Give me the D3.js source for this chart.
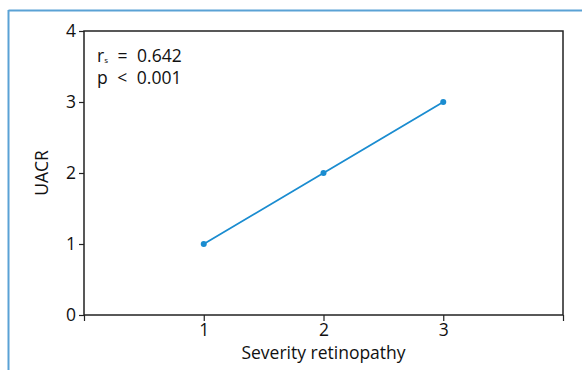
<!DOCTYPE html>
<html><head><meta charset="utf-8">
<script src="https://cdn.jsdelivr.net/npm/d3@7"></script>
<style>
body{margin:0;background:#fff;}
svg{display:block;font-family:"Open Sans","Noto Sans",sans-serif;}
</style></head><body>
<svg id="c" width="582" height="370"></svg>
<script>
const severity = [1, 2, 3];
const uacr = [1, 2, 3];
const xTicks = [0, 1, 2, 3, 4];
const xTickLabels = ["", "1", "2", "3", ""];
const yTicks = [0, 1, 2, 3, 4];
const statLines = ["= 0.642", "p < 0.001"];

const svg = d3.select("#c");
const m = {l: 84, r: 19, t: 31, b: 55};
const W = 582, H = 370;
const x = d3.scaleLinear().domain([0, 4]).range([m.l, W - m.r]);
const y = d3.scaleLinear().domain([0, 4]).range([H - m.b, m.t]);
const FS = "17.5px";

// outer frame (blue)
svg.append("line").attr("x1", 8.5).attr("x2", 582).attr("y1", 10.5).attr("y2", 10.5)
  .attr("stroke", "#5aa2d5").attr("stroke-width", 2);
svg.append("line").attr("x1", 8.5).attr("x2", 8.5).attr("y1", 10).attr("y2", 370)
  .attr("stroke", "#5aa2d5").attr("stroke-width", 2);

// plot box
svg.append("rect").attr("x", x(0)).attr("y", y(4)).attr("width", x(4) - x(0)).attr("height", y(0) - y(4))
  .attr("fill", "none").attr("stroke", "#222").attr("stroke-width", 1.5);

const xAxis = svg.append("g").attr("transform", `translate(0,${y(0)})`)
  .call(d3.axisBottom(x).tickValues(xTicks).tickFormat((d, i) => xTickLabels[i]).tickSize(6).tickPadding(3));
const yAxis = svg.append("g").attr("transform", `translate(${x(0)},0)`)
  .call(d3.axisLeft(y).tickValues(yTicks).tickFormat(d3.format("d")).tickSize(5).tickPadding(3));
[xAxis, yAxis].forEach(g => {
  g.select(".domain").remove();
  g.selectAll("line").attr("stroke", "#222").attr("stroke-width", 1.2);
  g.selectAll("text").attr("fill", "#111").style("font-size", FS).style("font-family", "'Open Sans','Noto Sans',sans-serif");
});

// line + points
const data = severity.map((s, i) => ({s, v: uacr[i]}));
svg.append("path").datum(data)
  .attr("d", d3.line().x(d => x(d.s)).y(d => y(d.v)))
  .attr("fill", "none").attr("stroke", "#1a8cd0").attr("stroke-width", 1.8);
svg.selectAll("circle.pt").data(data).join("circle").attr("class", "pt")
  .attr("cx", d => x(d.s)).attr("cy", d => y(d.v)).attr("r", 3).attr("fill", "#1a8cd0");

// stats text
const t1 = svg.append("text").attr("x", 97).attr("y", 62).attr("fill", "#111").style("font-size", FS).style("word-spacing", "5px");
t1.append("tspan").text("r");
t1.append("tspan").attr("dy", 1).style("font-size", "8px").text("s");
t1.append("tspan").attr("dy", -1).text(" " + statLines[0]);
svg.append("text").attr("x", 97).attr("y", 84).attr("fill", "#111").style("font-size", FS).style("word-spacing", "5px").text(statLines[1]);

// axis labels
svg.append("text").attr("x", (x(0) + x(4)) / 2).attr("y", 359).attr("text-anchor", "middle")
  .attr("fill", "#111").style("font-size", FS).text("Severity retinopathy");
svg.append("text").attr("transform", `translate(48,${y(2)}) rotate(-90)`).attr("text-anchor", "middle")
  .attr("fill", "#111").style("font-size", FS).text("UACR");
</script>
</body></html>
